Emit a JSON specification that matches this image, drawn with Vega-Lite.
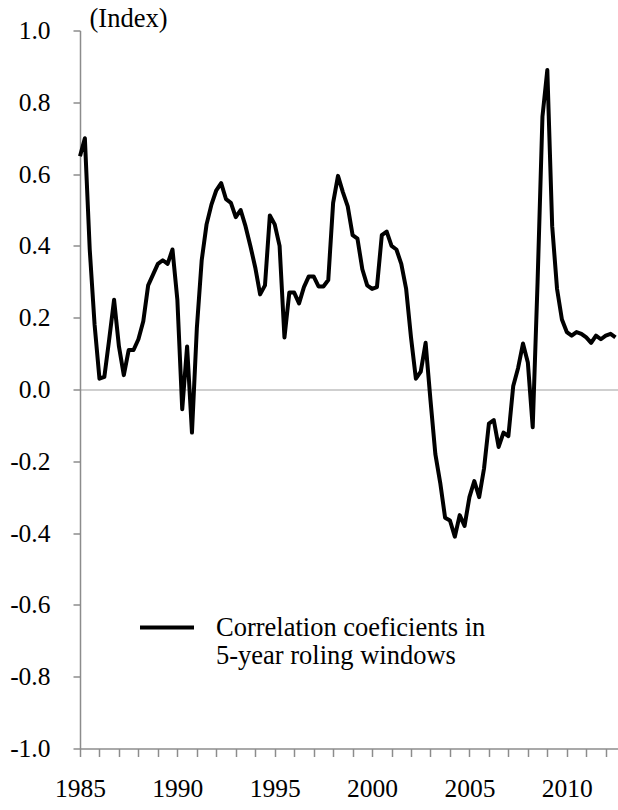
{
  "$schema": "https://vega.github.io/schema/vega-lite/v6.json",
  "width": 538,
  "height": 718,
  "autosize": {"type": "none"},
  "padding": {"left": 80, "top": 30.5, "right": 0, "bottom": 61.5},
  "background": "white",
  "config": {
    "view": {"stroke": null},
    "font": "Liberation Serif",
    "style": {"guide-label": {"lineHeight": 28, "font": "Liberation Serif"}},
    "axis": {
      "grid": false,
      "labelFont": "Liberation Serif",
      "labelFontSize": 25.5,
      "labelColor": "#000000",
      "domainColor": "#8c8c8c",
      "domainWidth": 1.5,
      "tickColor": "#8c8c8c",
      "tickWidth": 1.5,
      "titleFont": "Liberation Serif",
      "titleFontSize": 26.5,
      "titleFontWeight": "normal",
      "titleColor": "#000000"
    }
  },
  "data": {
    "values": [
      {"year": 1985.00, "corr": 0.65}, {"year": 1985.25, "corr": 0.70}, {"year": 1985.50, "corr": 0.39}, {"year": 1985.75, "corr": 0.18},
      {"year": 1986.00, "corr": 0.03}, {"year": 1986.25, "corr": 0.035}, {"year": 1986.50, "corr": 0.14}, {"year": 1986.75, "corr": 0.25},
      {"year": 1987.00, "corr": 0.12}, {"year": 1987.25, "corr": 0.04}, {"year": 1987.50, "corr": 0.11}, {"year": 1987.75, "corr": 0.11},
      {"year": 1988.00, "corr": 0.14}, {"year": 1988.25, "corr": 0.19}, {"year": 1988.50, "corr": 0.29}, {"year": 1988.75, "corr": 0.32},
      {"year": 1989.00, "corr": 0.35}, {"year": 1989.25, "corr": 0.36}, {"year": 1989.50, "corr": 0.35}, {"year": 1989.75, "corr": 0.39},
      {"year": 1990.00, "corr": 0.25}, {"year": 1990.25, "corr": -0.055}, {"year": 1990.50, "corr": 0.12}, {"year": 1990.75, "corr": -0.12},
      {"year": 1991.00, "corr": 0.17}, {"year": 1991.25, "corr": 0.36}, {"year": 1991.50, "corr": 0.46}, {"year": 1991.75, "corr": 0.515},
      {"year": 1992.00, "corr": 0.555}, {"year": 1992.25, "corr": 0.575}, {"year": 1992.50, "corr": 0.53}, {"year": 1992.75, "corr": 0.52},
      {"year": 1993.00, "corr": 0.48}, {"year": 1993.25, "corr": 0.50}, {"year": 1993.50, "corr": 0.455}, {"year": 1993.75, "corr": 0.40},
      {"year": 1994.00, "corr": 0.34}, {"year": 1994.25, "corr": 0.265}, {"year": 1994.50, "corr": 0.29}, {"year": 1994.75, "corr": 0.485},
      {"year": 1995.00, "corr": 0.46}, {"year": 1995.25, "corr": 0.40}, {"year": 1995.50, "corr": 0.145}, {"year": 1995.75, "corr": 0.27},
      {"year": 1996.00, "corr": 0.27}, {"year": 1996.25, "corr": 0.24}, {"year": 1996.50, "corr": 0.285}, {"year": 1996.75, "corr": 0.315},
      {"year": 1997.00, "corr": 0.315}, {"year": 1997.25, "corr": 0.287}, {"year": 1997.50, "corr": 0.287}, {"year": 1997.75, "corr": 0.305},
      {"year": 1998.00, "corr": 0.52}, {"year": 1998.25, "corr": 0.595}, {"year": 1998.50, "corr": 0.55}, {"year": 1998.75, "corr": 0.51},
      {"year": 1999.00, "corr": 0.43}, {"year": 1999.25, "corr": 0.42}, {"year": 1999.50, "corr": 0.335}, {"year": 1999.75, "corr": 0.29},
      {"year": 2000.00, "corr": 0.28}, {"year": 2000.25, "corr": 0.285}, {"year": 2000.50, "corr": 0.43}, {"year": 2000.75, "corr": 0.44},
      {"year": 2001.00, "corr": 0.40}, {"year": 2001.25, "corr": 0.39}, {"year": 2001.50, "corr": 0.35}, {"year": 2001.75, "corr": 0.28},
      {"year": 2002.00, "corr": 0.145}, {"year": 2002.25, "corr": 0.03}, {"year": 2002.50, "corr": 0.05}, {"year": 2002.75, "corr": 0.13},
      {"year": 2003.00, "corr": -0.03}, {"year": 2003.25, "corr": -0.18}, {"year": 2003.50, "corr": -0.26}, {"year": 2003.75, "corr": -0.357},
      {"year": 2004.00, "corr": -0.365}, {"year": 2004.25, "corr": -0.41}, {"year": 2004.50, "corr": -0.35}, {"year": 2004.75, "corr": -0.38},
      {"year": 2005.00, "corr": -0.30}, {"year": 2005.25, "corr": -0.255}, {"year": 2005.50, "corr": -0.30}, {"year": 2005.75, "corr": -0.22},
      {"year": 2006.00, "corr": -0.095}, {"year": 2006.25, "corr": -0.085}, {"year": 2006.50, "corr": -0.16}, {"year": 2006.75, "corr": -0.12},
      {"year": 2007.00, "corr": -0.13}, {"year": 2007.25, "corr": 0.01}, {"year": 2007.50, "corr": 0.06}, {"year": 2007.75, "corr": 0.128},
      {"year": 2008.00, "corr": 0.075}, {"year": 2008.25, "corr": -0.105}, {"year": 2008.50, "corr": 0.30}, {"year": 2008.75, "corr": 0.76},
      {"year": 2009.00, "corr": 0.89}, {"year": 2009.25, "corr": 0.455}, {"year": 2009.50, "corr": 0.28}, {"year": 2009.75, "corr": 0.195},
      {"year": 2010.00, "corr": 0.16}, {"year": 2010.25, "corr": 0.15}, {"year": 2010.50, "corr": 0.16}, {"year": 2010.75, "corr": 0.155},
      {"year": 2011.00, "corr": 0.145}, {"year": 2011.25, "corr": 0.13}, {"year": 2011.50, "corr": 0.15}, {"year": 2011.75, "corr": 0.14},
      {"year": 2012.00, "corr": 0.15}, {"year": 2012.25, "corr": 0.155}, {"year": 2012.50, "corr": 0.145}
    ]
  },
  "mark": {"type": "line", "strokeWidth": 4, "strokeJoin": "round"},
  "encoding": {
    "x": {
      "field": "year",
      "type": "quantitative",
      "scale": {"domain": [1985, 2012.63], "nice": false, "zero": false},
      "axis": {
        "title": null,
        "values": [1985, 1986, 1987, 1988, 1989, 1990, 1991, 1992, 1993, 1994, 1995, 1996, 1997, 1998, 1999, 2000, 2001, 2002, 2003, 2004, 2005, 2006, 2007, 2008, 2009, 2010, 2011, 2012],
        "labelExpr": "datum.value % 5 === 0 ? format(datum.value, 'd') : ''",
        "labelOverlap": false,
        "labelFlush": false,
        "labelFont": "Liberation Serif",
        "labelPadding": 20,
        "tickSize": 8
      }
    },
    "y": {
      "field": "corr",
      "type": "quantitative",
      "scale": {"domain": [-1, 1], "nice": false},
      "axis": {
        "title": "(Index)",
        "titleAngle": 0,
        "titleAlign": "left",
        "titleBaseline": "alphabetic",
        "titleX": 9,
        "titleY": -4,
        "values": [-1, -0.8, -0.6, -0.4, -0.2, 0, 0.2, 0.4, 0.6, 0.8, 1],
        "format": ".1f",
        "labelExpr": "datum.value < 0 ? '-' + format(-datum.value, '.1f') : format(datum.value, '.1f')",
        "labelFont": "Liberation Serif",
        "labelPadding": 23,
        "tickSize": 7,
        "grid": true,
        "gridWidth": 1.5,
        "gridColor": {"condition": {"test": "datum.value === 0", "value": "#bfbfbf"}, "value": "transparent"}
      }
    },
    "color": {
      "datum": "Correlation coeficients in 5-year roling windows",
      "scale": {"range": ["#000000"]},
      "legend": {
        "title": null,
        "orient": "none",
        "legendX": 58,
        "legendY": 568,
        "padding": 0,
        "symbolType": "stroke",
        "symbolSize": 2916,
        "symbolStrokeWidth": 4,
        "symbolStrokeColor": "#000000",
        "labelFont": "Liberation Serif",
        "labelFontSize": 26.5,
        "labelColor": "#000000",
        "labelOffset": 20,
        "labelLimit": 500,
        "labelBaseline": "middle",
        "labelExpr": "['Correlation coeficients in', '5-year roling windows']"
      }
    }
  }
}
